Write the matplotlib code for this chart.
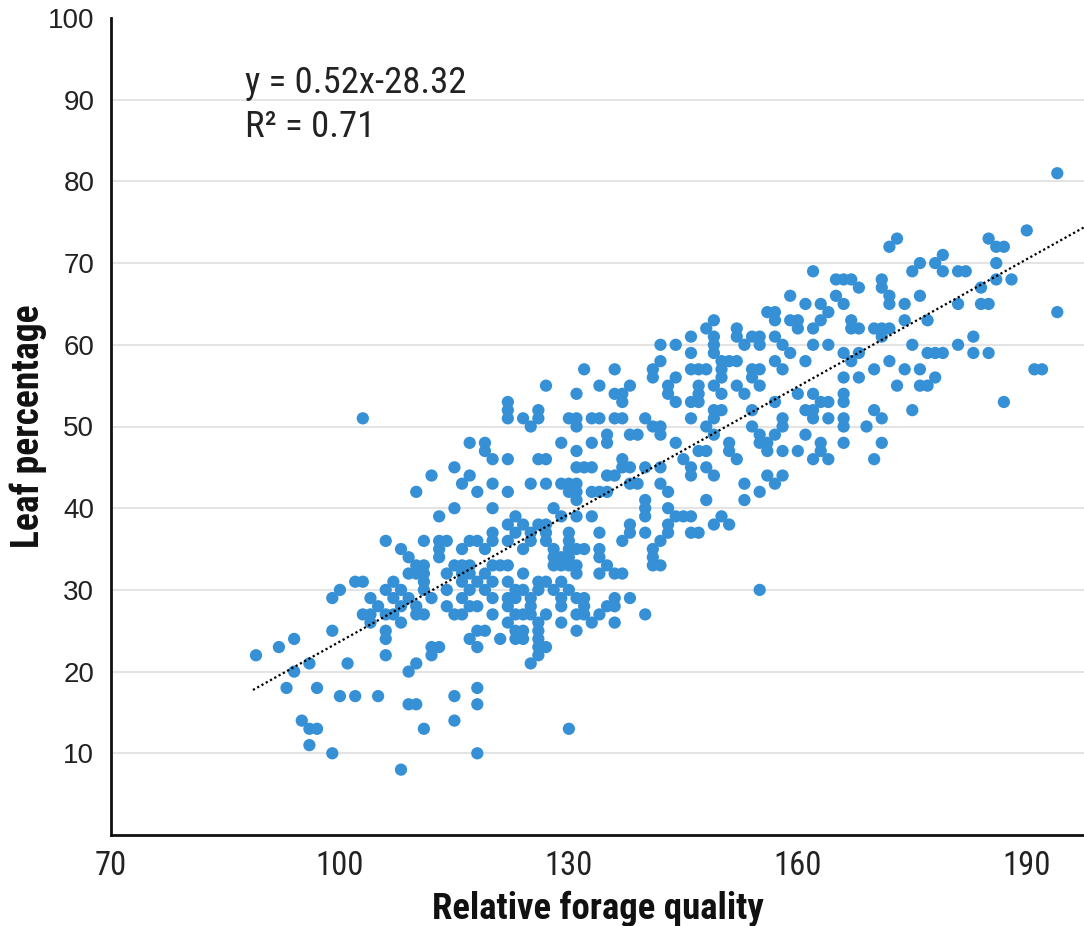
import numpy as np
import matplotlib
matplotlib.use('Agg')
import matplotlib.pyplot as plt
from matplotlib import font_manager as fm

# relative forage quality (x) and leaf percentage (y), read row by row
rfq = [194,
       190,
       173, 185,
       172, 186, 187,
       179,
       176, 178, 186,
       162, 175, 179, 181, 182,
       165, 166, 167, 171, 186, 188,
       168, 171, 184,
       159, 165, 172, 176,
       161, 163, 166, 172, 174, 181, 184, 185,
       156, 157, 164, 194,
       149, 157, 159, 160, 163, 167, 174, 177,
       148, 152, 160, 162, 167, 168, 170, 171, 172,
       146, 149, 152, 154, 155, 157, 171, 183,
       142, 144, 149, 153, 155, 158, 162, 164, 175, 181,
       146, 149, 159, 166, 168, 177, 178, 179, 183, 185,
       142, 150, 151, 152, 157, 161, 167, 172,
       132, 136, 141, 146, 147, 148, 150, 154, 155, 158, 170, 174, 176, 191, 192,
       141, 144, 150, 154, 166, 168, 178,
       127, 134, 138, 143, 147, 149, 152, 155, 173, 176, 177,
       131, 136, 137, 143, 147, 150, 153, 160, 162, 166,
       122, 137, 144, 146, 147, 157, 163, 164, 166, 187,
       122, 126, 149, 150, 154, 161, 162, 170, 175,
       103, 122, 124, 126, 130, 131, 133, 134, 136, 137, 140, 146, 149, 158, 162, 164, 166, 171,
       125, 131, 141, 142, 148, 154, 158, 166, 169,
       135, 138, 139, 142, 149, 155, 157, 161,
       117, 119, 129, 133, 135, 144, 151, 155, 156, 163, 166, 171,
       119, 131, 147, 148, 151, 156, 158, 160, 163,
       120, 122, 126, 127, 137, 145, 152, 162, 164, 170,
       115, 131, 132, 133, 137, 138, 140, 142, 146, 148,
       112, 117, 135, 136, 146, 149, 156, 158,
       116, 120, 125, 127, 129, 130, 131, 138, 139, 142, 153, 157,
       110, 118, 122, 130, 131, 133, 134, 135, 143, 155,
       131, 140, 148, 153,
       115, 120, 128, 140, 143,
       113, 123, 129, 131, 133, 140, 144, 145, 146, 150,
       122, 124, 126, 127, 138, 143, 149, 151,
       120, 123, 125, 127, 130, 134, 138, 140, 143, 146, 147,
       106, 111, 113, 114, 117, 118, 120, 122, 125, 127, 130, 137, 142,
       108, 113, 116, 119, 124, 128, 130, 131, 132, 134, 141,
       109, 113, 128, 129, 130, 134, 141,
       110, 111, 115, 116, 117, 120, 121, 122, 128, 129, 130, 131, 135, 141, 142,
       109, 110, 111, 114, 116, 117, 119, 124, 131, 134, 136, 137,
       102, 103, 107, 111, 116, 118, 120, 122, 126, 127, 129,
       100, 106, 108, 111, 114, 117, 119, 123, 124, 126, 128, 130, 155,
       99, 104, 107, 109, 112, 116, 120, 122, 123, 125, 129, 131, 132, 136, 138,
       105, 108, 110, 114, 117, 118, 122, 125, 129, 132, 135, 136,
       103, 104, 106, 107, 110, 111, 115, 116, 120, 123, 124, 125, 127, 131, 132, 134, 140,
       104, 108, 122, 126, 129, 133, 136,
       99, 106, 118, 119, 123, 124, 126, 131,
       94, 106, 117, 121, 123, 124, 126,
       92, 112, 113, 118, 126, 127,
       89, 106, 112, 126,
       96, 101, 110, 125,
       94, 109,
       93, 97, 118,
       100, 102, 105, 115,
       109, 110, 118,
       95, 115,
       96, 97, 111, 130,
       96,
       99, 118,
       108]

leaf = [81,
        74,
        73, 73,
        72, 72, 72,
        71,
        70, 70, 70,
        69, 69, 69, 69, 69,
        68, 68, 68, 68, 68, 68,
        67, 67, 67,
        66, 66, 66, 66,
        65, 65, 65, 65, 65, 65, 65, 65,
        64, 64, 64, 64,
        63, 63, 63, 63, 63, 63, 63, 63,
        62, 62, 62, 62, 62, 62, 62, 62, 62,
        61, 61, 61, 61, 61, 61, 61, 61,
        60, 60, 60, 60, 60, 60, 60, 60, 60, 60,
        59, 59, 59, 59, 59, 59, 59, 59, 59, 59,
        58, 58, 58, 58, 58, 58, 58, 58,
        57, 57, 57, 57, 57, 57, 57, 57, 57, 57, 57, 57, 57, 57, 57,
        56, 56, 56, 56, 56, 56, 56,
        55, 55, 55, 55, 55, 55, 55, 55, 55, 55, 55,
        54, 54, 54, 54, 54, 54, 54, 54, 54, 54,
        53, 53, 53, 53, 53, 53, 53, 53, 53, 53,
        52, 52, 52, 52, 52, 52, 52, 52, 52,
        51, 51, 51, 51, 51, 51, 51, 51, 51, 51, 51, 51, 51, 51, 51, 51, 51, 51,
        50, 50, 50, 50, 50, 50, 50, 50, 50,
        49, 49, 49, 49, 49, 49, 49, 49,
        48, 48, 48, 48, 48, 48, 48, 48, 48, 48, 48, 48,
        47, 47, 47, 47, 47, 47, 47, 47, 47,
        46, 46, 46, 46, 46, 46, 46, 46, 46, 46,
        45, 45, 45, 45, 45, 45, 45, 45, 45, 45,
        44, 44, 44, 44, 44, 44, 44, 44,
        43, 43, 43, 43, 43, 43, 43, 43, 43, 43, 43, 43,
        42, 42, 42, 42, 42, 42, 42, 42, 42, 42,
        41, 41, 41, 41,
        40, 40, 40, 40, 40,
        39, 39, 39, 39, 39, 39, 39, 39, 39, 39,
        38, 38, 38, 38, 38, 38, 38, 38,
        37, 37, 37, 37, 37, 37, 37, 37, 37, 37, 37,
        36, 36, 36, 36, 36, 36, 36, 36, 36, 36, 36, 36, 36,
        35, 35, 35, 35, 35, 35, 35, 35, 35, 35, 35,
        34, 34, 34, 34, 34, 34, 34,
        33, 33, 33, 33, 33, 33, 33, 33, 33, 33, 33, 33, 33, 33, 33,
        32, 32, 32, 32, 32, 32, 32, 32, 32, 32, 32, 32,
        31, 31, 31, 31, 31, 31, 31, 31, 31, 31, 31,
        30, 30, 30, 30, 30, 30, 30, 30, 30, 30, 30, 30, 30,
        29, 29, 29, 29, 29, 29, 29, 29, 29, 29, 29, 29, 29, 29, 29,
        28, 28, 28, 28, 28, 28, 28, 28, 28, 28, 28, 28,
        27, 27, 27, 27, 27, 27, 27, 27, 27, 27, 27, 27, 27, 27, 27, 27, 27,
        26, 26, 26, 26, 26, 26, 26,
        25, 25, 25, 25, 25, 25, 25, 25,
        24, 24, 24, 24, 24, 24, 24,
        23, 23, 23, 23, 23, 23,
        22, 22, 22, 22,
        21, 21, 21, 21,
        20, 20,
        18, 18, 18,
        17, 17, 17, 17,
        16, 16, 16,
        14, 14,
        13, 13, 13, 13,
        11,
        10, 10,
        8]

assert len(rfq) == len(leaf)

# trend line as printed on the chart
slope = 0.52
intercept = -28.32
trend_x = [88.6, 197.5]

xticks = [70, 100, 130, 160, 190]
yticks = [10, 20, 30, 40, 50, 60, 70, 80, 90, 100]

avail = {f.name for f in fm.fontManager.ttflist}
narrow = None
for name in ['Roboto Condensed', 'Liberation Sans Narrow', 'Open Sans Condensed']:
    if name in avail:
        narrow = name
        break
if narrow is None:
    narrow = 'DejaVu Sans'
stretch = 'condensed'

fig = plt.figure(figsize=(10.84, 9.26), dpi=100)
ax = fig.add_axes([111 / 1084, 91 / 926, 973 / 1084, 817 / 926])

ax.scatter(rfq, leaf, s=78, color='#3690d6', edgecolors='none', zorder=3)

tx = np.array(trend_x)
ax.plot(tx, slope * tx + intercept, color='black', linestyle=(0, (1, 1.2)),
        linewidth=1.6, zorder=4)

ax.set_xlim(70, 197.5)
ax.set_ylim(0, 100)
ax.set_xticks(xticks)
ax.set_yticks(yticks)
ax.tick_params(axis='both', length=0)
ax.tick_params(axis='x', pad=11)
ax.tick_params(axis='y', pad=12)
for lab in ax.get_xticklabels():
    lab.set_fontfamily(narrow)
    lab.set_fontstretch(stretch)
    lab.set_fontsize(23.5)
    lab.set_color('#222222')
for lab in ax.get_yticklabels():
    lab.set_fontfamily('Liberation Sans')
    lab.set_fontsize(20)
    lab.set_color('#222222')

ax.yaxis.grid(True, color='#e4e4e4', linewidth=1.5)
ax.get_ygridlines()[-1].set_visible(False)
ax.set_axisbelow(True)

for side in ['top', 'right']:
    ax.spines[side].set_visible(False)
for side in ['left', 'bottom']:
    ax.spines[side].set_linewidth(2)
    ax.spines[side].set_color('#111111')

ax.set_xlabel('Relative forage quality', fontfamily=narrow, fontstretch=stretch,
              fontweight='bold', fontsize=26.5, labelpad=6, color='#111111')
ax.set_ylabel('Leaf percentage', fontfamily=narrow, fontstretch=stretch,
              fontweight='bold', fontsize=27, color='#111111')
ax.yaxis.set_label_coords(-0.066, 0.5)

ax.text(0.138, 0.942, 'y = 0.52x-28.32', transform=ax.transAxes, va='top', ha='left',
        fontfamily=narrow, fontstretch=stretch, fontsize=26.5, color='#222222')
ax.text(0.138, 0.889, 'R² = 0.71', transform=ax.transAxes, va='top', ha='left',
        fontfamily=narrow, fontstretch=stretch, fontsize=26.5, color='#222222')

fig.savefig('out.png', dpi=100)
